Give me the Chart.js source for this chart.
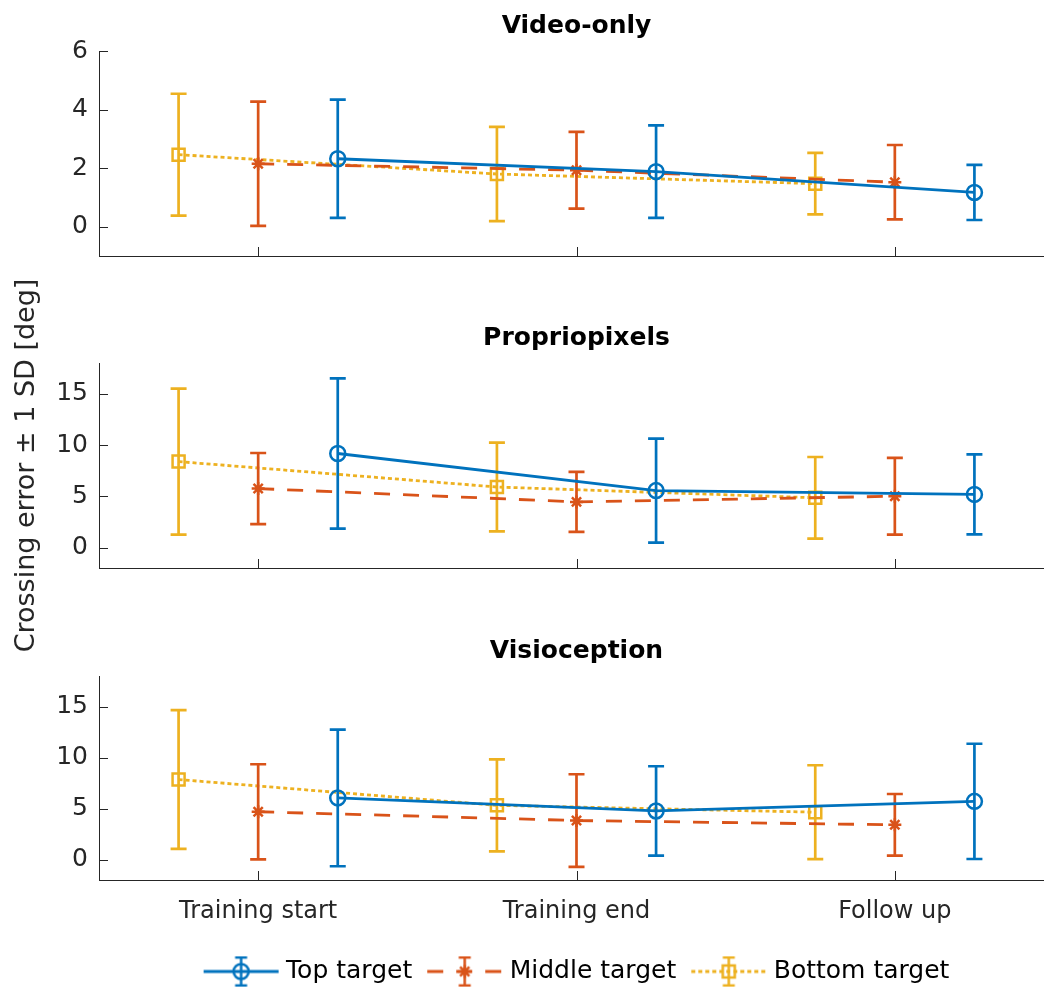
<!DOCTYPE html>
<html>
<head>
<meta charset="utf-8">
<title>Crossing error by target</title>
<script src="https://cdn.jsdelivr.net/npm/chart.js@4.4.1/dist/chart.umd.min.js"></script>
<style>
  html, body { margin: 0; padding: 0; background: #fff; }
  #wrap { position: relative; width: 1044px; height: 987px; overflow: hidden; }
  #wrap canvas { position: absolute; left: 0; top: 0; }
</style>
</head>
<body>
<div id="wrap">
  <canvas id="video" width="1054" height="987"></canvas>
  <canvas id="proprio" width="1054" height="987"></canvas>
  <canvas id="visio" width="1054" height="987"></canvas>
</div>
<script>
var categories = ['Training start', 'Training end', 'Follow up'];
var seriesNames = ['Top target', 'Middle target', 'Bottom target'];

// mean crossing error [deg] and 1 SD for each session
var videoTop = [2.32, 1.88, 1.17];
var videoTopSD = [2.02, 1.58, 0.94];
var videoMiddle = [2.15, 1.93, 1.52];
var videoMiddleSD = [2.12, 1.31, 1.27];
var videoBottom = [2.46, 1.80, 1.47];
var videoBottomSD = [2.08, 1.61, 1.05];

var proprioTop = [9.17, 5.55, 5.18];
var proprioTopSD = [7.33, 5.08, 3.90];
var proprioMiddle = [5.75, 4.45, 5.00];
var proprioMiddleSD = [3.47, 2.92, 3.74];
var proprioBottom = [8.38, 5.90, 4.85];
var proprioBottomSD = [7.12, 4.33, 3.98];

var visioTop = [6.05, 4.77, 5.71];
var visioTopSD = [6.70, 4.38, 5.65];
var visioMiddle = [4.69, 3.83, 3.41];
var visioMiddleSD = [4.66, 4.54, 3.02];
var visioBottom = [7.85, 5.32, 4.65];
var visioBottomSD = [6.80, 4.51, 4.60];

var videoTicks = [0, 2, 4, 6];
var proprioTicks = [0, 5, 10, 15];
var visioTicks = [0, 5, 10, 15];

var colors = ['#0072BD', '#D95319', '#EDB120'];
var offsets = [0.25, 0, -0.25];   // side-by-side shift within a session
var dashes = [[], [16, 13], [4, 3]];
var markers = ['circle', 'star', 'rect'];
var markerSize = [7.5, 6.5, 8.5];
var axisColor = '#262626';
var fontName = '"DejaVu Sans", sans-serif';

function makeDatasets(means, sds) {
  return means.map(function (m, s) {
    return {
      label: seriesNames[s],
      data: m.map(function (v, i) { return { x: i + 1 + offsets[s], y: v }; }),
      errors: sds[s],
      borderColor: colors[s],
      borderWidth: 2.8,
      borderDash: dashes[s],
      pointStyle: markers[s],
      pointRadius: markerSize[s],
      pointBorderWidth: 2.5,
      pointBackgroundColor: 'rgba(0,0,0,0)',
      pointBorderColor: colors[s],
      fill: false,
      tension: 0
    };
  });
}

// vertical bars with caps, mean +/- SD
var errorBars = {
  id: 'errorBars',
  beforeDatasetDraw: function (chart, args) {
    var ds = chart.data.datasets[args.index];
    var y = chart.scales.y, ctx = chart.ctx;
    ctx.save();
    ctx.strokeStyle = ds.borderColor;
    ctx.lineWidth = 2.7;
    ctx.setLineDash([]);
    ctx.beginPath();
    args.meta.data.forEach(function (pt, i) {
      var v = ds.data[i].y, e = ds.errors[i];
      var hi = y.getPixelForValue(v + e), lo = y.getPixelForValue(v - e);
      ctx.moveTo(pt.x, hi); ctx.lineTo(pt.x, lo);
      ctx.moveTo(pt.x - 8, hi); ctx.lineTo(pt.x + 8, hi);
      ctx.moveTo(pt.x - 8, lo); ctx.lineTo(pt.x + 8, lo);
    });
    ctx.stroke();
    ctx.restore();
  }
};

// short tick marks pointing into the plot
var inwardTicks = {
  id: 'inwardTicks',
  afterDraw: function (chart) {
    var ctx = chart.ctx, x = chart.scales.x, y = chart.scales.y;
    ctx.save();
    ctx.strokeStyle = axisColor;
    ctx.lineWidth = 1;
    ctx.beginPath();
    y.ticks.forEach(function (t) {
      var py = Math.round(y.getPixelForValue(t.value)) + 0.5;
      ctx.moveTo(x.left, py); ctx.lineTo(x.left + 9, py);
    });
    x.ticks.forEach(function (t) {
      var px = Math.round(x.getPixelForValue(t.value)) + 0.5;
      ctx.moveTo(px, y.bottom); ctx.lineTo(px, y.bottom - 9);
    });
    ctx.stroke();
    ctx.restore();
  }
};

// line + error bar + marker sample used as the legend swatch
function legendSymbol(s) {
  var c = document.createElement('canvas');
  c.width = 86; c.height = 32;
  var g = c.getContext('2d');
  var cx = 45.5, cy = 16;
  g.strokeStyle = colors[s];
  g.lineWidth = 2.8;
  g.setLineDash(dashes[s]);
  g.beginPath(); g.moveTo(8, cy); g.lineTo(83, cy); g.stroke();
  g.setLineDash([]);
  g.lineWidth = 2.5;
  g.beginPath();
  g.moveTo(cx, 2); g.lineTo(cx, 30);
  g.moveTo(cx - 6, 2); g.lineTo(cx + 6, 2);
  g.moveTo(cx - 6, 30); g.lineTo(cx + 6, 30);
  g.stroke();
  g.beginPath();
  if (markers[s] === 'circle') {
    g.arc(cx, cy, markerSize[s], 0, Math.PI * 2);
  } else if (markers[s] === 'rect') {
    var h = markerSize[s] * Math.SQRT1_2;
    g.rect(cx - h, cy - h, 2 * h, 2 * h);
  } else {
    for (var k = 0; k < 4; k++) {
      var a = k * Math.PI / 4, r = markerSize[s];
      g.moveTo(cx - r * Math.cos(a), cy - r * Math.sin(a));
      g.lineTo(cx + r * Math.cos(a), cy + r * Math.sin(a));
    }
  }
  g.stroke();
  return c;
}

function makePanel(id, title, means, sds, ticks, yMin, yMax, opts) {
  return new Chart(document.getElementById(id), {
    type: 'line',
    data: { datasets: makeDatasets(means, sds) },
    plugins: [errorBars, inwardTicks],
    options: {
      responsive: false,
      animation: false,
      events: [],
      layout: { autoPadding: false, padding: { top: opts.top, bottom: opts.bottom, left: 0, right: 0 } },
      scales: {
        x: {
          type: 'linear',
          min: 0.5,
          max: 3.5,
          afterBuildTicks: function (s) { s.ticks = [1, 2, 3].map(function (v) { return { value: v }; }); },
          afterFit: function (s) { s.height = opts.xHeight; },
          grid: { display: false, drawTicks: false },
          border: { display: true, color: axisColor, width: 1 },
          ticks: {
            display: opts.showX,
            autoSkip: false,
            maxRotation: 0,
            padding: 17,
            color: axisColor,
            font: { family: fontName, size: 24 },
            callback: function (v) { return categories[v - 1]; }
          }
        },
        y: {
          min: yMin,
          max: yMax,
          afterBuildTicks: function (s) { s.ticks = ticks.map(function (v) { return { value: v }; }); },
          afterFit: function (s) { s.width = 99; },
          grid: { display: false, drawTicks: false },
          border: { display: true, color: axisColor, width: 1 },
          ticks: { padding: 11, color: axisColor, font: { family: fontName, size: 25 } },
          title: {
            display: !!opts.yTitle,
            text: opts.yTitle || '',
            color: axisColor,
            font: { family: fontName, size: 27 },
            padding: { top: 10.8, bottom: 0 }
          }
        }
      },
      plugins: {
        tooltip: { enabled: false },
        title: {
          display: true,
          text: title,
          fullSize: false,
          color: '#000',
          font: { family: fontName, size: 25, weight: 'bold', lineHeight: 1.2 },
          padding: { top: 11, bottom: 10 }
        },
        legend: {
          display: !!opts.legend,
          position: 'bottom',
          fullSize: false,
          labels: {
            usePointStyle: true,
            pointStyleWidth: 70,
            padding: 15,
            color: '#000',
            font: { family: fontName, size: 25 },
            sort: function (a, b) { return a.datasetIndex - b.datasetIndex; },
            generateLabels: function (chart) {
              return Chart.defaults.plugins.legend.labels.generateLabels(chart).map(function (item) {
                item.pointStyle = legendSymbol(item.datasetIndex);
                return item;
              });
            }
          }
        }
      }
    }
  });
}

makePanel('video', 'Video-only',
  [videoTop, videoMiddle, videoBottom], [videoTopSD, videoMiddleSD, videoBottomSD],
  videoTicks, -1, 6, { top: 0, bottom: 731, xHeight: 0, showX: false });

makePanel('proprio', 'Propriopixels',
  [proprioTop, proprioMiddle, proprioBottom], [proprioTopSD, proprioMiddleSD, proprioBottomSD],
  proprioTicks, -2, 18, { top: 312, bottom: 419, xHeight: 0, showX: false, yTitle: 'Crossing error \u00b1 1 SD [deg]' });

makePanel('visio', 'Visioception',
  [visioTop, visioMiddle, visioBottom], [visioTopSD, visioMiddleSD, visioBottomSD],
  visioTicks, -2, 18, { top: 625, bottom: -7, xHeight: 64, showX: true, legend: true });
</script>
</body>
</html>
